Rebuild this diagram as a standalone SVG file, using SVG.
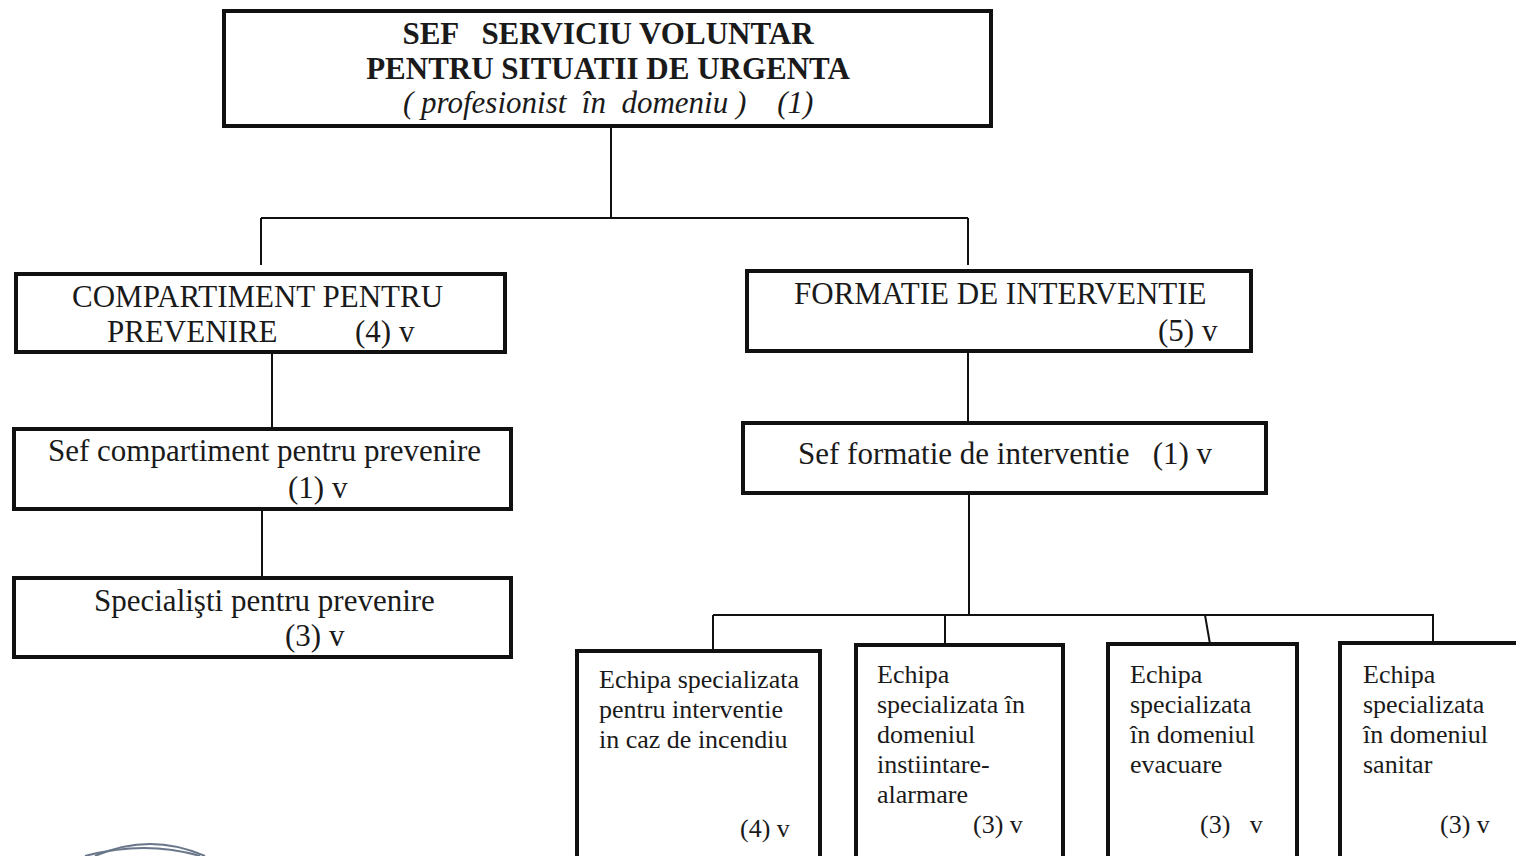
<svg xmlns="http://www.w3.org/2000/svg" width="1516" height="856" viewBox="0 0 1516 856">
<style>
.box{fill:#fff;stroke:#111;stroke-width:4}
.con{fill:none;stroke:#111;stroke-width:2}
.t{font-family:"Liberation Serif","Times New Roman",serif;fill:#1a1a1a}
.big{font-size:31px}
.mid{font-size:31px}
.sm{font-size:26px}
.b{font-weight:bold}
.i{font-style:italic}
</style>
<rect width="1516" height="856" fill="#fff"/>
<g id="connectors">
<path class="con" d="M611 126V218M261 218H968M261 218V265M968 218V265"/>
<path class="con" d="M272 354V429"/>
<path class="con" d="M262 509V578"/>
<path class="con" d="M968 353V423"/>
<path class="con" d="M969 493V615M713 615H1434M713 615V651M945 615V645M1205 615L1210 644M1433 615V643"/>
</g>
<g id="n-sef">
<rect class="box" x="224" y="11" width="767" height="115"/>
<text class="t big b" x="608" y="44" text-anchor="middle" xml:space="preserve">SEF   SERVICIU VOLUNTAR</text>
<text class="t big b" x="608" y="79" text-anchor="middle">PENTRU SITUATII DE URGENTA</text>
<text class="t big i" x="403" y="113" xml:space="preserve">( profesionist  în  domeniu )    (1)</text>
</g>
<g id="n-compartiment">
<rect class="box" x="16" y="274" width="489" height="78"/>
<text class="t mid" x="72" y="307">COMPARTIMENT PENTRU</text>
<text class="t mid" x="107" y="342">PREVENIRE</text>
<text class="t mid" x="355" y="342">(4) v</text>
</g>
<g id="n-sefcomp">
<rect class="box" x="14" y="429" width="497" height="80"/>
<text class="t mid" x="48" y="461">Sef compartiment pentru prevenire</text>
<text class="t mid" x="288" y="498">(1) v</text>
</g>
<g id="n-specialisti">
<rect class="box" x="14" y="578" width="497" height="79"/>
<text class="t mid" x="94" y="611">Specialişti pentru prevenire</text>
<text class="t mid" x="285" y="646">(3) v</text>
</g>
<g id="n-formatie">
<rect class="box" x="747" y="271" width="504" height="80"/>
<text class="t mid" x="794" y="304">FORMATIE DE INTERVENTIE</text>
<text class="t mid" x="1158" y="341">(5) v</text>
</g>
<g id="n-sefform">
<rect class="box" x="743" y="423" width="523" height="70"/>
<text class="t mid" x="798" y="464" xml:space="preserve">Sef formatie de interventie   (1) v</text>
</g>
<g id="n-incendiu">
<rect class="box" x="577" y="651" width="243" height="215"/>
<text class="t sm" x="599" y="688">Echipa specializata</text>
<text class="t sm" x="599" y="718">pentru interventie</text>
<text class="t sm" x="599" y="748">in caz de incendiu</text>
<text class="t sm" x="740" y="837">(4) v</text>
</g>
<g id="n-alarmare">
<rect class="box" x="856" y="645" width="207" height="221"/>
<text class="t sm" x="877" y="683">Echipa</text>
<text class="t sm" x="877" y="713">specializata în</text>
<text class="t sm" x="877" y="743">domeniul</text>
<text class="t sm" x="877" y="773">instiintare-</text>
<text class="t sm" x="877" y="803">alarmare</text>
<text class="t sm" x="973" y="833">(3) v</text>
</g>
<g id="n-evacuare">
<rect class="box" x="1108" y="644" width="189" height="222"/>
<text class="t sm" x="1130" y="683">Echipa</text>
<text class="t sm" x="1130" y="713">specializata</text>
<text class="t sm" x="1130" y="743">în domeniul</text>
<text class="t sm" x="1130" y="773">evacuare</text>
<text class="t sm" x="1200" y="833" xml:space="preserve">(3)   v</text>
</g>
<g id="n-sanitar">
<rect class="box" x="1340" y="643" width="190" height="223"/>
<text class="t sm" x="1363" y="683">Echipa</text>
<text class="t sm" x="1363" y="713">specializata</text>
<text class="t sm" x="1363" y="743">în domeniul</text>
<text class="t sm" x="1363" y="773">sanitar</text>
<text class="t sm" x="1440" y="833">(3) v</text>
</g>
<g id="stamp" fill="none" stroke="#2c3e5a" stroke-width="2" opacity="0.7">
<path d="M95 856Q150 832 205 856"/>
<path d="M85 856Q145 840 200 856"/>
</g>
</svg>
